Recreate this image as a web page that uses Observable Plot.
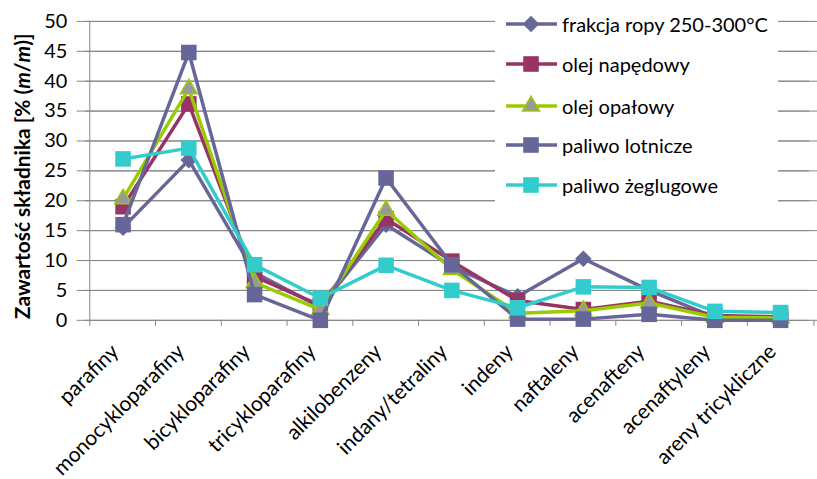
<!DOCTYPE html>
<html><head><meta charset="utf-8">
<script src="https://cdn.jsdelivr.net/npm/d3@7"></script>
<script src="https://cdn.jsdelivr.net/npm/@observablehq/plot@0.6"></script>
<style>
html,body{margin:0;padding:0;background:#fff;overflow:hidden;}
#wrap{position:relative;width:817px;height:479px;overflow:hidden;font-family:Lato,"Liberation Sans",sans-serif;}
#legend{position:absolute;left:495px;top:3px;width:283px;height:205px;background:#fff;}
.item{position:absolute;left:10px;height:24px;display:flex;align-items:center;font-size:20px;color:#000;white-space:nowrap;}
.item svg{margin-right:3px;}
</style></head><body>
<div id="wrap"><div id="chart"></div><div id="legend"></div></div>
<script>
const categories = ["parafiny","monocykloparafiny","bicykloparafiny","tricykloparafiny","alkilobenzeny","indany/tetraliny","indeny","naftaleny","acenafteny","acenaftyleny","areny tricykliczne"];
const seriesNames = ["frakcja ropy 250-300°C","olej napędowy","olej opałowy","paliwo lotnicze","paliwo żeglugowe"];
const frakcja   = [15.5, 26.8, 8.0, 2.2, 16.0, 9.0, 4.0, 10.3, 5.0, 0.5, 0.3];
const napedowy  = [19.0, 36.2, 7.3, 2.5, 17.0, 9.9, 3.3, 1.8, 3.2, 0.8, 0.6];
const opalowy   = [20.3, 38.7, 6.3, 1.8, 18.4, 8.5, 1.2, 1.6, 2.9, 0.5, 0.4];
const lotnicze  = [16.0, 44.8, 4.3, 0.0, 23.8, 9.3, 0.2, 0.2, 1.0, 0.0, 0.0];
const zeglugowe = [27.0, 28.8, 9.3, 3.7, 9.2, 5.0, 2.1, 5.6, 5.5, 1.5, 1.3];
const yTicks = [0,5,10,15,20,25,30,35,40,45,50];

const seriesValues = [frakcja, napedowy, opalowy, lotnicze, zeglugowe];
const styles = [
  {stroke:"#666699", symbol:"diamond2", fill:"#666699", r:7.5, mstroke:"none"},
  {stroke:"#993366", symbol:"square", fill:"#993366", r:8.8, mstroke:"none"},
  {stroke:"#99CC00", symbol:"triangle", fill:"#999999", r:6.3, mstroke:"#99CC00"},
  {stroke:"#666699", symbol:"square", fill:"#666699", r:8.8, mstroke:"none"},
  {stroke:"#33CCCC", symbol:"square", fill:"#33CCCC", r:8.8, mstroke:"none"}
];

const W = 820, H = 479, ML = 85, MR = 0, MT = 21, MB = 158;
const step = (W - ML - MR) / categories.length;
const grid = "#868686";

const marks = [
  Plot.ruleY(yTicks, {stroke: grid, strokeWidth: 1}),
  Plot.ruleY(yTicks, {stroke: grid, strokeWidth: 1, dx: -8}),
  Plot.ruleX([categories[0]], {dx: -step/2, stroke: grid, y1: 0, y2: 50}),
  Plot.ruleX(categories, {dx: -step/2, stroke: grid, y1: 0, y2: -1}),
  Plot.ruleX([categories[categories.length-1]], {dx: step/2, stroke: grid, y1: 0, y2: -1}),
  Plot.axisY({ticks: yTicks, tickSize: 0, tickPadding: 18, fontSize: 20, label: null, fill: "#000"}),
  Plot.axisX({tickSize: 0, tickRotate: -45, fontSize: 21, label: null, tickPadding: 28, dx: -8, fill: "#000"})
];
seriesNames.forEach((name, i) => {
  const rows = categories.map((c, j) => ({cat: c, value: seriesValues[i][j], series: name}));
  const s = styles[i];
  marks.push(Plot.line(rows, {x: "cat", y: "value", stroke: s.stroke, strokeWidth: 3.5, strokeLinejoin: "round"}));
  marks.push(Plot.dot(rows, {x: "cat", y: "value", symbol: s.symbol, fill: s.fill, stroke: s.mstroke, strokeWidth: 1.5, r: s.r}));
});

const chart = Plot.plot({
  width: W, height: H,
  marginLeft: ML, marginRight: MR, marginTop: MT, marginBottom: MB,
  style: {fontFamily: "Lato, 'Liberation Sans', sans-serif", background: "#fff", color: "#000", overflow: "visible"},
  x: {type: "point", domain: categories, padding: 0.5, axis: null},
  y: {domain: [0, 50], axis: null},
  marks
});
document.getElementById("chart").appendChild(chart);

// y-axis title with italic m
const svg = d3.select(chart);
const t = svg.append("text")
  .attr("transform", "translate(30,177) rotate(-90)")
  .attr("text-anchor", "middle")
  .attr("font-weight", "bold")
  .attr("font-size", 21)
  .attr("fill", "#000");
t.append("tspan").text("Zawartość składnika [% (");
t.append("tspan").attr("font-style", "italic").text("m");
t.append("tspan").text("/");
t.append("tspan").attr("font-style", "italic").text("m");
t.append("tspan").text(")]");

// legend
const legend = d3.select("#legend");
const ys = [9, 49, 91, 130, 170];
seriesNames.forEach((name, i) => {
  const s = styles[i];
  const it = legend.append("div").attr("class", "item").style("top", ys[i] + "px");
  const sw = it.append("svg").attr("width", 54).attr("height", 24);
  sw.append("line").attr("x1", 1).attr("x2", 52).attr("y1", 12).attr("y2", 12)
    .attr("stroke", s.stroke).attr("stroke-width", 3.5);
  const sym = {diamond2: d3.symbolDiamond2, square: d3.symbolSquare, triangle: d3.symbolTriangle}[s.symbol];
  sw.append("path").attr("transform", "translate(26,12)")
    .attr("d", d3.symbol(sym, Math.PI * s.r * s.r)())
    .attr("fill", s.fill).attr("stroke", s.mstroke).attr("stroke-width", 1.5);
  it.append("span").text(name);
});
</script>
</body></html>
